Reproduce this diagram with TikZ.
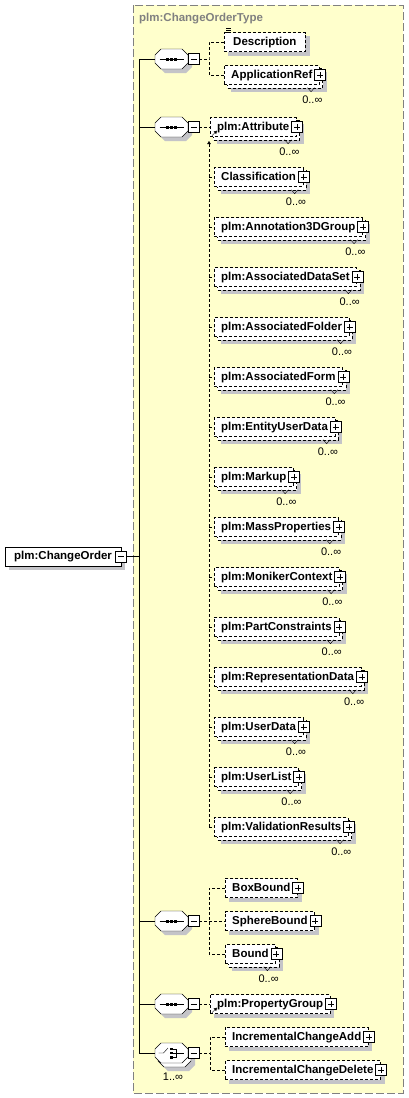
\documentclass[tikz,border=0pt]{standalone}
\usepackage{fontspec}
\setmainfont{Liberation Sans}
\usetikzlibrary{calc,arrows.meta}
\pgfdeclarelayer{bg}
\pgfdeclarelayer{shade}
\pgfsetlayers{bg,shade,main}
\definecolor{ybg}{HTML}{FFFFCC}
\definecolor{shd}{HTML}{C4C4C8}
\definecolor{frm}{HTML}{808080}
\newcommand\elemfont{\bfseries\fontsize{11.5}{13}\selectfont}
\newcommand\occfont{\fontsize{11}{13}\selectfont}
\tikzset{
  elemline/.style={dash pattern=on 3pt off 2pt},
  conn/.style={elemline},
  elem/.style={draw, elemline, fill=white, font=\elemfont, inner xsep=7pt, inner ysep=0pt,
    minimum height=19pt, anchor=west, text height=8.5pt, text depth=2.5pt},
  compbox/.style={minimum width=33pt, minimum height=20pt, inner sep=0pt},
  minusbox/.style={draw, solid, fill=white, minimum size=11pt, inner sep=0pt,
    path picture={\draw[solid] ([xshift=2.5pt]path picture bounding box.west) -- ([xshift=-2.5pt]path picture bounding box.east);}},
  plusbox/.style={draw, solid, fill=white, minimum size=11pt, inner sep=0pt,
    path picture={\draw[solid] ([xshift=2.5pt]path picture bounding box.west) -- ([xshift=-2.5pt]path picture bounding box.east);
      \draw[solid] ([yshift=-2.5pt]path picture bounding box.north) -- ([yshift=2.5pt]path picture bounding box.south);}},
  occ/.style={font=\occfont, inner sep=0pt},
  reftip/.style={solid, -{Triangle[length=3pt,width=3.5pt]}},
}
\newcommand\octa[2]{\path[#1, shift={#2}] (-16.5,-4) -- (-10.5,-10) -- (10.5,-10) -- (16.5,-4) -- (16.5,4) -- (10.5,10) -- (-10.5,10) -- (-16.5,4) -- cycle;}
\newcommand\seqsym{\draw (-12,0) -- (12,0);
  \fill (-5.5,-1.5) rectangle (-2.5,1.5); \fill (-1.5,-1.5) rectangle (1.5,1.5); \fill (2.5,-1.5) rectangle (5.5,1.5);}
\newcommand\choicesym{\draw (-13,0) -- (-8,0) -- (-3.5,-5);
  \fill (-1.5,-5.5) rectangle (1,-3); \fill (-1.5,-1.25) rectangle (1,1.25); \fill (-1.5,3) rectangle (1,5.5);
  \draw (1,-4.25) -- (4.5,-4.25) -- (4.5,4.25) -- (1,4.25); \draw (1,0) -- (12,0);}
\newcommand\compo[3]{%
  \node[compbox] (#1) at (171.5,#2) {};
  \begin{pgfonlayer}{shade}\octa{fill=shd}{($(#1.center)+(4,4)$)}\end{pgfonlayer}
  \octa{draw, fill=white}{(#1.center)}
  \begin{scope}[shift={(#1.center)}]#3\end{scope}
  \node[minusbox] (#1-m) at ($(#1.center)+(22,0)$) {};
}
\newcommand\compomulti[3]{%
  \node[compbox] (#1) at (171.5,#2) {};
  \begin{pgfonlayer}{shade}\octa{fill=shd}{($(#1.center)+(7,8)$)}\end{pgfonlayer}
  \octa{draw, fill=white}{($(#1.center)+(3,4)$)}
  \octa{draw, fill=white}{(#1.center)}
  \begin{scope}[shift={(#1.center)}]#3\end{scope}
  \node[minusbox] (#1-m) at ($(#1.center)+(22,0)$) {};
}
\newcommand\elsingle[4]{%
  \node[elem] (#1) at (#2,#3) {#4\hspace{5pt}};
  \begin{pgfonlayer}{shade}
    \fill[shd] ($(#1.north west)+(4,4)$) rectangle ($(#1.south east)+(4,4)$);
  \end{pgfonlayer}
  \node[plusbox] (#1-p) at ($(#1.east)+(0.5,0)$) {};
}
\newcommand\elmulti[4]{%
  \node[elem] (#1) at (#2,#3) {#4\hspace{5pt}};
  \begin{pgfonlayer}{shade}
    \fill[shd] ($(#1.north west)+(7,7)$) rectangle ($(#1.south east)+(7,7)$);
    \draw[elemline, fill=white] ($(#1.north west)+(3,3)$) rectangle ($(#1.south east)+(3,3)$);
  \end{pgfonlayer}
  \draw[solid] ($(#1.south east)+(-12,3)$) -- ++(3.5,4) -- ++(3.5,-4);
  \node[plusbox] (#1-p) at ($(#1.east)+(0.5,0)$) {};
  \node[occ, anchor=east] (#1-o) at ($(#1.south east)+(3,15)$) {0..∞};
}
\begin{document}
\begin{tikzpicture}[x=1pt, y=-1pt, line width=1pt]
\useasboundingbox (0,0) rectangle (408,1098);
\begin{pgfonlayer}{bg}
  \fill[white] (0,0) rectangle (408,1098);
  \fill[ybg] (133,5) rectangle (403,1093);
  \draw[frm, dash pattern=on 8pt off 3pt] (133,5) rectangle (403,1093);
\end{pgfonlayer}
\node[anchor=west, inner sep=0pt, text=frm, font=\elemfont] (title) at (139,19) {plm:ChangeOrderType};

% root element
\node[elem, solid, inner xsep=9pt] (co) at (5,556.5) {plm:ChangeOrder\hspace{4pt}};
\begin{pgfonlayer}{shade}
  \fill[shd] ($(co.north west)+(4,4)$) rectangle ($(co.south east)+(4,4)$);
\end{pgfonlayer}
\node[minusbox] (co-m) at (co.east) {};
\coordinate (trunk) at (139,556.5);

% compositors
\compo{c1}{59}{\seqsym}
\compo{c2}{127}{\seqsym}
\compo{c3}{921}{\seqsym}
\compo{c4}{1004}{\seqsym}
\compomulti{c5}{1053}{\choicesym}
\node[occ] (c5-o) at (173,1077) {1..∞};

\draw (co-m.east) -- (trunk);
\draw (c1.west -| trunk) -- (c5.west -| trunk);
\foreach \c in {c1,c2,c3,c4,c5} { \draw (\c.west -| trunk) -- (\c.west); }

% group 1
\node[elem, inner xsep=9pt] (desc) at (224,42) {Description};
\begin{pgfonlayer}{shade}
  \fill[shd] ($(desc.north west)+(4,4)$) rectangle ($(desc.south east)+(4,4)$);
\end{pgfonlayer}
\draw[solid, line width=0.8pt] ($(desc.north west)+(2,-3.5)$) -- ++(5,0)
  ($(desc.north west)+(2,-1.5)$) -- ++(5,0) ($(desc.north west)+(2,0.5)$) -- ++(5,0);
\elmulti{appref}{224}{75}{ApplicationRef}
\coordinate (bus1) at (209,59);
\draw[conn] (c1-m.east) -- (bus1);
\draw[conn] (desc.west) -| (bus1) |- (appref.west);

% group 2
\elmulti{attr}{210}{127}{plm:Attribute}
\draw[reftip] ($(attr.south west)+(2,-1)$) -- ++(5,-5);
\elmulti{classif}{214}{177}{Classification}
\elmulti{annot}{214}{227}{plm:Annotation3DGroup}
\elmulti{ads}{214}{277}{plm:AssociatedDataSet}
\elmulti{afold}{214}{327}{plm:AssociatedFolder}
\elmulti{aform}{214}{377}{plm:AssociatedForm}
\elmulti{eud}{214}{427}{plm:EntityUserData}
\elmulti{markup}{214}{477}{plm:Markup}
\elmulti{mass}{214}{527}{plm:MassProperties}
\elmulti{moniker}{214}{577}{plm:MonikerContext}
\elmulti{partc}{214}{627}{plm:PartConstraints}
\elmulti{repd}{214}{677}{plm:RepresentationData}
\elmulti{userd}{214}{727}{plm:UserData}
\elmulti{userl}{214}{777}{plm:UserList}
\elmulti{valr}{214}{827}{plm:ValidationResults}
\coordinate (bus2) at (209,141);
\draw[conn] (c2-m.east) -- (attr.west);
\draw[conn, {Triangle[length=3pt,width=3.5pt]}-] (bus2) -- (valr.west -| bus2);
\foreach \e in {classif,annot,ads,afold,aform,eud,markup,mass,moniker,partc,repd,userd,userl,valr}
  { \draw[conn] (\e.west -| bus2) -- (\e.west); }

% group 3
\elsingle{boxb}{225}{888}{BoxBound}
\elsingle{sphereb}{225}{921}{SphereBound}
\elmulti{bound}{225}{954}{Bound}
\coordinate (bus3) at (209,921);
\draw[conn] (c3-m.east) -- (bus3);
\draw[conn] (boxb.west) -| (bus3) |- (bound.west);
\draw[conn] (bus3) -- (sphereb.west);

% group 4
\elsingle{propg}{210}{1004}{plm:PropertyGroup}
\draw[reftip] ($(propg.south west)+(2,-1)$) -- ++(5,-5);
\draw[conn] (c4-m.east) -- (propg.west);

% group 5
\elsingle{ica}{225}{1037}{IncrementalChangeAdd}
\elsingle{icd}{225}{1070}{IncrementalChangeDelete}
\coordinate (bus5) at (210,1053);
\draw[conn] (c5-m.east) -- (bus5);
\draw[conn] (ica.west) -| (bus5) |- (icd.west);
\end{tikzpicture}
\end{document}
